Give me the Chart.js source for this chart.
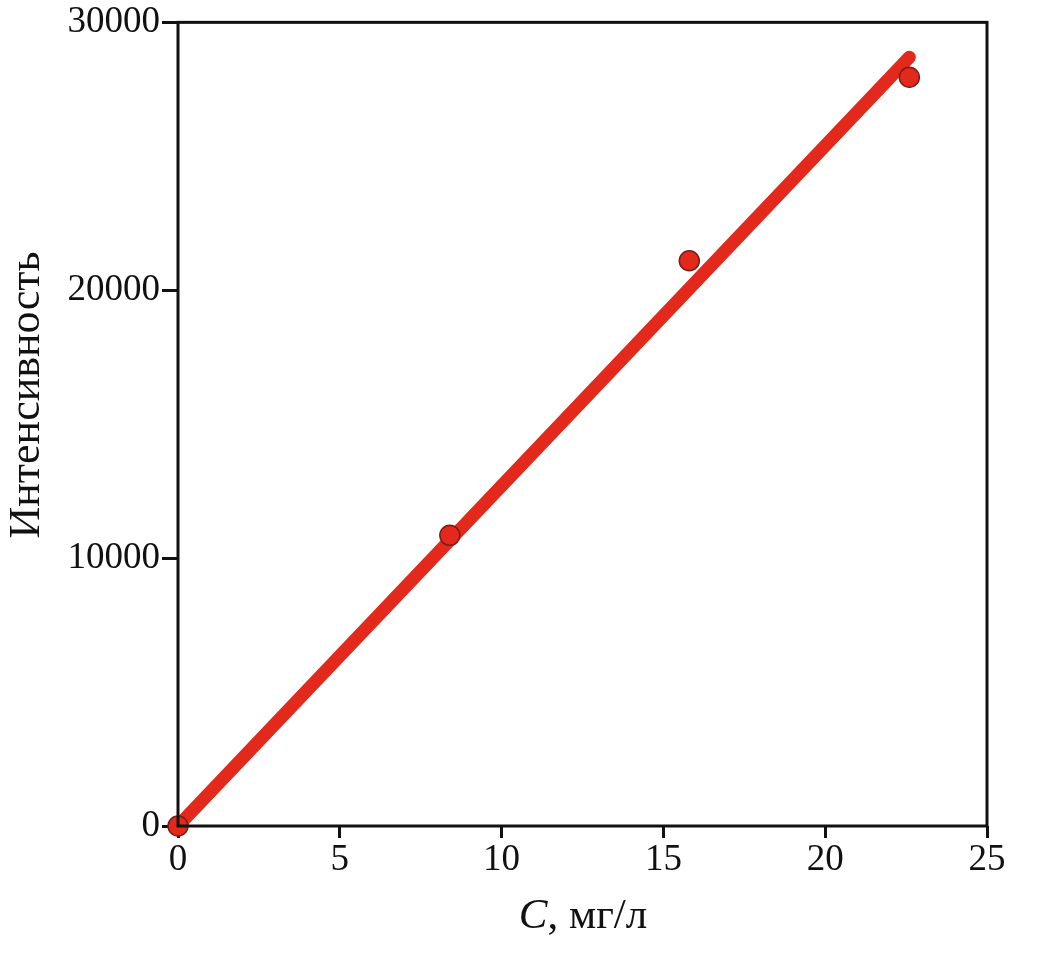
<!DOCTYPE html>
<html>
<head>
<meta charset="utf-8">
<script src="https://cdn.jsdelivr.net/npm/chart.js@4/dist/chart.umd.min.js"></script>
<style>
  html, body { margin: 0; padding: 0; background: #fff; }
  #wrap { width: 1062px; height: 954px; }
</style>
</head>
<body>
<div id="wrap"><canvas id="graph"></canvas></div>
<script>
// measured points
const concX = [0, 8.4, 15.8, 22.6];
const intensityY = [0, 10850, 21100, 27950];
// fitted line ends
const fitX = [0, 22.6];
const fitY = [0, 28700];

const xTicks = [0, 5, 10, 15, 20, 25];
const yTicks = [0, 10000, 20000, 30000];

const red = '#e3281c';
const serif = "'Liberation Serif', 'DejaVu Serif', serif";

// full frame around the plot + axis titles (italic C on x)
const framePlugin = {
    id: 'frame',
    afterDraw(chart) {
        const { ctx, chartArea: a } = chart;
        ctx.save();
        ctx.strokeStyle = '#111';
        ctx.lineWidth = 3;
        ctx.strokeRect(a.left, a.top, a.right - a.left, a.bottom - a.top);

        ctx.fillStyle = '#111';
        ctx.textBaseline = 'middle';

        // y title, a bit above centre like the original
        ctx.save();
        ctx.translate(27, 395);
        ctx.rotate(-Math.PI / 2);
        ctx.textAlign = 'center';
        ctx.font = '44px ' + serif;
        ctx.fillText('Интенсивность', 0, 0);
        ctx.restore();

        const y = 917;
        ctx.font = 'italic 43px ' + serif;
        const w1 = ctx.measureText('C').width;
        ctx.font = '43px ' + serif;
        const rest = ', мг/л';
        const w2 = ctx.measureText(rest).width;
        const x0 = 583 - (w1 + w2) / 2;
        ctx.textAlign = 'left';
        ctx.font = 'italic 43px ' + serif;
        ctx.fillText('C', x0, y);
        ctx.font = '43px ' + serif;
        ctx.fillText(rest, x0 + w1, y);
        ctx.restore();
    }
};

let context = document.querySelector('#graph').getContext('2d');

new Chart(context, {
    type: 'scatter',
    data: {
        datasets: [
            {
                label: 'Измерения',
                data: concX.map((x, i) => ({ x: x, y: intensityY[i] })),
                backgroundColor: red,
                borderColor: '#7a1d16',
                borderWidth: 1.5,
                pointRadius: 10,
                clip: false,
                order: 0
            },
            {
                label: 'Градуировка',
                type: 'line',
                data: fitX.map((x, i) => ({ x: x, y: fitY[i] })),
                borderColor: red,
                borderWidth: 13,
                borderCapStyle: 'round',
                pointRadius: 0,
                fill: false,
                clip: false,
                order: 1
            }
        ]
    },
    options: {
        responsive: true,
        maintainAspectRatio: false,
        animation: false,
        layout: { padding: { top: 14, right: 75, left: 0, bottom: 0 } },
        plugins: {
            legend: { display: false },
            tooltip: { enabled: false }
        },
        scales: {
            x: {
                type: 'linear',
                min: 0,
                max: 25,
                afterBuildTicks(scale) { scale.ticks = xTicks.map(v => ({ value: v })); },
                afterFit(scale) { scale.height = 128; },
                grid: {
                    drawOnChartArea: false,
                    drawTicks: true,
                    tickLength: 12,
                    tickWidth: 3,
                    color: '#111'
                },
                border: { display: false },
                ticks: {
                    color: '#111',
                    padding: 0,
                    maxRotation: 0,
                    font: { family: serif, size: 37 },
                    callback: v => String(v)
                }
            },
            y: {
                type: 'linear',
                min: 0,
                max: 30000,
                afterBuildTicks(scale) { scale.ticks = yTicks.map(v => ({ value: v })); },
                afterFit(scale) { scale.width = 178; },
                grid: {
                    drawOnChartArea: false,
                    drawTicks: true,
                    tickLength: 16,
                    tickWidth: 3,
                    color: '#111'
                },
                border: { display: false },
                ticks: {
                    color: '#111',
                    padding: 2,
                    font: { family: serif, size: 37, lineHeight: 1.1 },
                    callback: v => String(v)
                }
            }
        }
    },
    plugins: [framePlugin]
});
</script>
</body>
</html>
